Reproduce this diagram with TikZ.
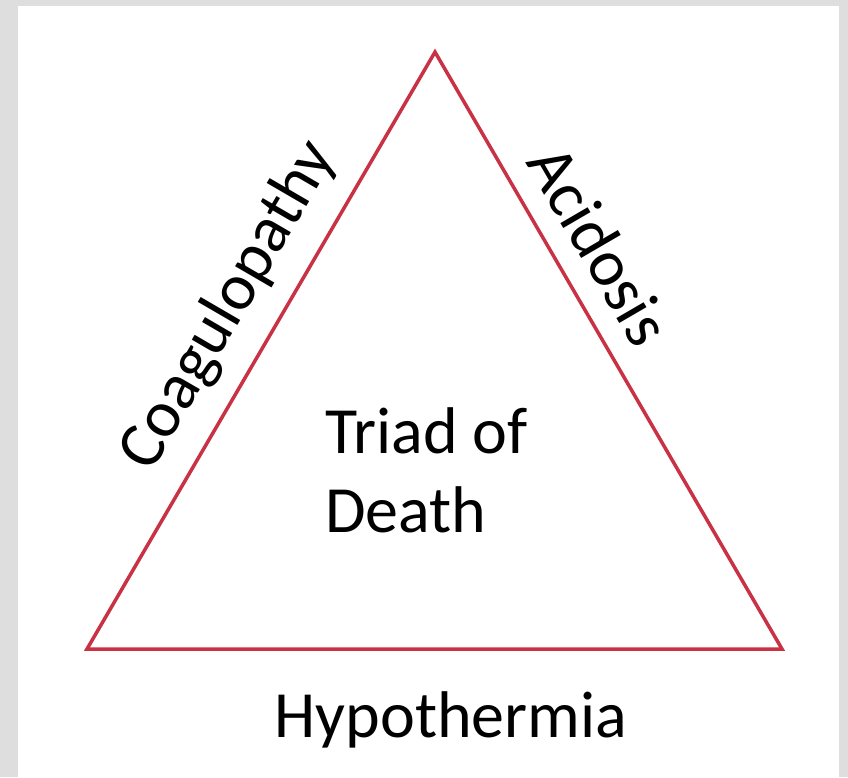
\documentclass[tikz,border=0pt]{standalone}
\usepackage{fontspec}
\setmainfont{Carlito}
\definecolor{tri}{RGB}{200,50,68}
\definecolor{bg}{RGB}{222,222,222}
\begin{document}
\begin{tikzpicture}[x=1pt,y=-1pt,
  lbl/.style={font=\fontsize{66}{79}\selectfont, inner sep=0pt}]
\fill[bg] (0,0) rectangle (848,777);
\fill[white] (18,6) rectangle (839,777);
\useasboundingbox (0,0) rectangle (848,777);
\coordinate (A) at (435,52);
\coordinate (B) at (87,649);
\coordinate (C) at (782,649);
\draw[tri, line width=3.5, line join=miter] (A) -- (B) -- (C) -- cycle;
\node[lbl, rotate=59.8] (coag) at (229,306) {Coagulopathy};
\node[lbl, rotate=-59.8] (acid) at (600,245) {Acidosis};
\node[lbl, align=left, anchor=base west] (triad) at (325,532) {Triad of\\Death};
\node[lbl, anchor=base] (hypo) at (451,737) {Hypothermia};
\end{tikzpicture}
\end{document}
